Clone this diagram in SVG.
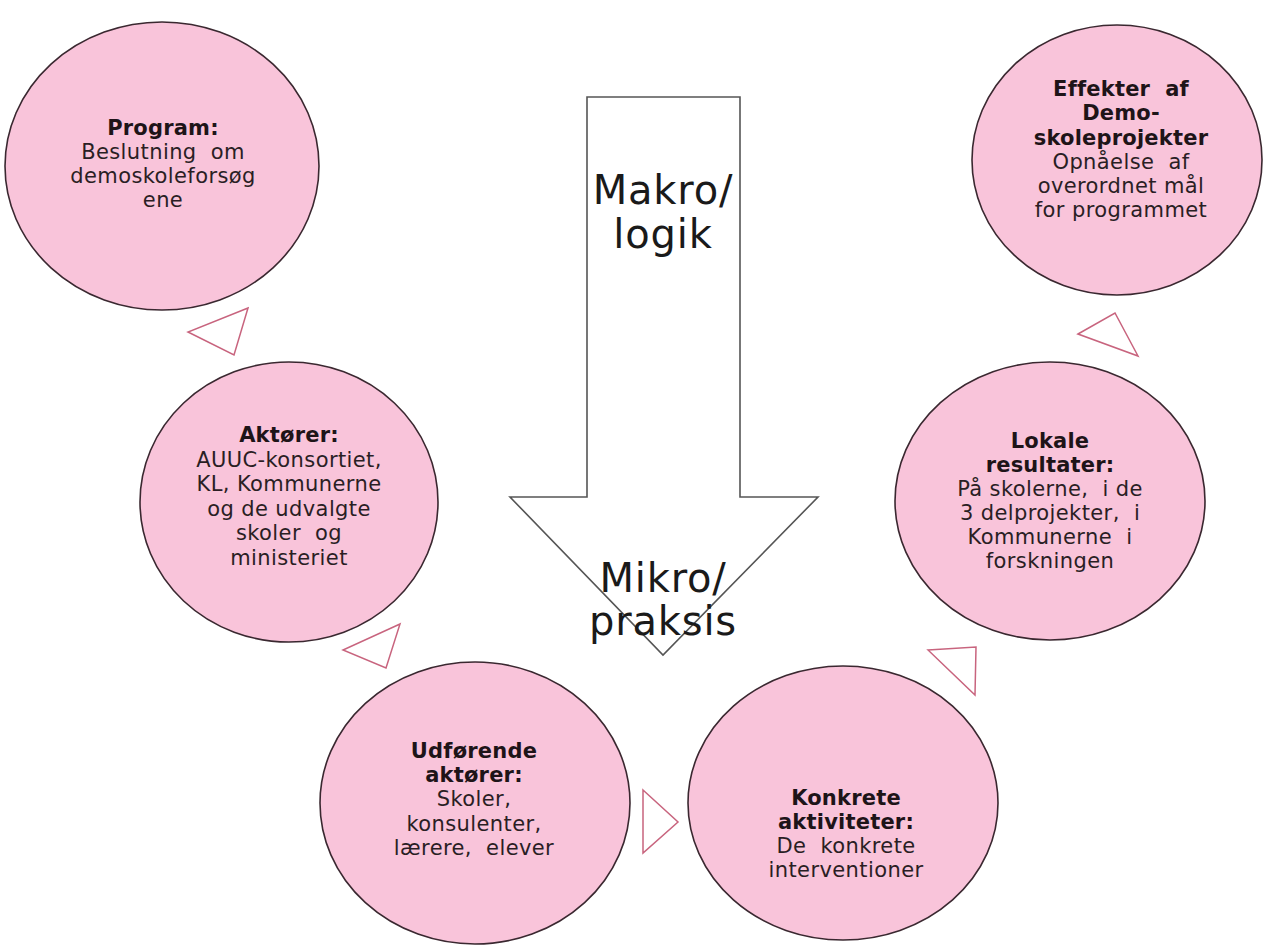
<svg xmlns="http://www.w3.org/2000/svg" width="1269" height="945" viewBox="0 0 1269 945">
<style>
.node ellipse{fill:#f9c4da;stroke:#3a2830;stroke-width:1.6}
.t{font-family:"DejaVu Sans",Verdana,sans-serif;font-size:21px;letter-spacing:0.4px;fill:#2a1e24;text-anchor:middle;white-space:pre}
.b{font-weight:bold;fill:#1e1418;letter-spacing:0.2px}
.conn polygon{fill:#ffffff;stroke:#c8647e;stroke-width:1.5}
.big{font-family:"DejaVu Sans",Verdana,sans-serif;font-size:40px;letter-spacing:0.8px;fill:#1a1a1a;text-anchor:middle}
</style>
<rect width="1269" height="945" fill="#ffffff"/>
<g id="macro-arrow">
<polygon points="587,97 740,97 740,497 818,497 663,655 510,497 587,497" fill="#ffffff" stroke="#555555" stroke-width="1.6"/>
<text class="big" x="663" y="204">Makro/</text>
<text class="big" x="663" y="248">logik</text>
<text class="big" x="663" y="592">Mikro/</text>
<text class="big" x="663" y="635">praksis</text>
</g>
<g id="connectors" class="conn">
<polygon points="248,308 188,332 234,355"/>
<polygon points="400,624 343,650 386,668"/>
<polygon points="643,790 678,822 643,853"/>
<polygon points="928,650 976,647 975,695"/>
<polygon points="1078,334 1115,313 1138,356"/>
</g>
<g id="program" class="node">
<ellipse cx="162" cy="166" rx="157" ry="144"/>
<text class="t b" x="163" y="135">Program:</text>
<text class="t" x="163" y="159">Beslutning  om</text>
<text class="t" x="163" y="183">demoskoleforsøg</text>
<text class="t" x="163" y="207">ene</text>
</g>
<g id="aktorer" class="node">
<ellipse cx="289" cy="502" rx="149" ry="140"/>
<text class="t b" x="289" y="442">Aktører:</text>
<text class="t" x="289" y="467">AUUC-konsortiet,</text>
<text class="t" x="289" y="491">KL, Kommunerne</text>
<text class="t" x="289" y="516">og de udvalgte</text>
<text class="t" x="289" y="540">skoler  og</text>
<text class="t" x="289" y="565">ministeriet</text>
</g>
<g id="udforende" class="node">
<ellipse cx="475" cy="803" rx="155" ry="141"/>
<text class="t b" x="474" y="758">Udførende</text>
<text class="t b" x="474" y="782">aktører:</text>
<text class="t" x="474" y="806">Skoler,</text>
<text class="t" x="474" y="831">konsulenter,</text>
<text class="t" x="474" y="855">lærere,  elever</text>
</g>
<g id="konkrete" class="node">
<ellipse cx="843" cy="803" rx="155" ry="137"/>
<text class="t b" x="846" y="805">Konkrete</text>
<text class="t b" x="846" y="829">aktiviteter:</text>
<text class="t" x="846" y="853">De  konkrete</text>
<text class="t" x="846" y="877">interventioner</text>
</g>
<g id="lokale" class="node">
<ellipse cx="1050" cy="501" rx="155" ry="139"/>
<text class="t b" x="1050" y="448">Lokale</text>
<text class="t b" x="1050" y="472">resultater:</text>
<text class="t" x="1050" y="496">På skolerne,  i de</text>
<text class="t" x="1050" y="520">3 delprojekter,  i</text>
<text class="t" x="1050" y="544">Kommunerne  i</text>
<text class="t" x="1050" y="568">forskningen</text>
</g>
<g id="effekter" class="node">
<ellipse cx="1117" cy="160" rx="145" ry="135"/>
<text class="t b" x="1121" y="96">Effekter  af</text>
<text class="t b" x="1121" y="120">Demo-</text>
<text class="t b" x="1121" y="145">skoleprojekter</text>
<text class="t" x="1121" y="169">Opnåelse  af</text>
<text class="t" x="1121" y="193">overordnet mål</text>
<text class="t" x="1121" y="217">for programmet</text>
</g>
</svg>
